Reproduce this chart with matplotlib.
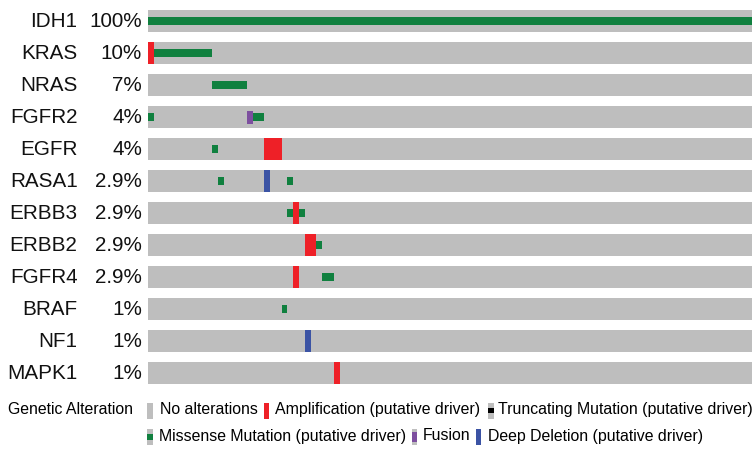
import matplotlib
matplotlib.use("Agg")
import matplotlib.pyplot as plt
from matplotlib.patches import Rectangle
from matplotlib.transforms import blended_transform_factory

plt.rcParams['font.family'] = ['Liberation Sans', 'DejaVu Sans']

# ---- data -------------------------------------------------------------
genes = ["IDH1", "KRAS", "NRAS", "FGFR2", "EGFR", "RASA1",
         "ERBB3", "ERBB2", "FGFR4", "BRAF", "NF1", "MAPK1"]
pct_labels = ["100%", "10%", "7%", "4%", "4%", "2.9%",
              "2.9%", "2.9%", "2.9%", "1%", "1%", "1%"]
n_samples = 104

# altered samples as runs: (gene, first sample, number of samples)
missense = [("IDH1", 0, 104), ("KRAS", 1, 10), ("NRAS", 11, 6),
            ("FGFR2", 0, 1), ("FGFR2", 18, 2), ("EGFR", 11, 1),
            ("RASA1", 12, 1), ("RASA1", 24, 1), ("ERBB3", 24, 1),
            ("ERBB3", 26, 1), ("ERBB2", 29, 1), ("FGFR4", 30, 2),
            ("BRAF", 23, 1)]
amplification = [("KRAS", 0, 1), ("EGFR", 20, 3), ("ERBB3", 25, 1),
                 ("ERBB2", 27, 2), ("FGFR4", 25, 1), ("MAPK1", 32, 1)]
deep_deletion = [("RASA1", 20, 1), ("NF1", 27, 1)]
fusion = [("FGFR2", 17, 1)]

# ---- styling ----------------------------------------------------------
C_GRAY = "#bebebe"
C_GREEN = "#10803f"
C_RED = "#ee2027"
C_BLUE = "#3b53a4"
C_PURPLE = "#7d4f9f"
TRACK_H = 0.70

W, H = 754, 451
fig = plt.figure(figsize=(W / 100, H / 100), dpi=100)

# legend / annotation layer in pixel units
lg = fig.add_axes([0, 0, 1, 1])
lg.set_xlim(0, W)
lg.set_ylim(H, 0)
lg.axis("off")

ax = fig.add_axes([148 / W, 1 - 389.15 / H, 604 / W, 384 / H])
ax.set_xlim(0, n_samples)
ax.set_ylim(len(genes) - 0.5, -0.5)
ax.axis("off")

rows = list(range(len(genes)))
ax.barh(rows, [n_samples] * len(genes), left=0, height=TRACK_H,
        color=C_GRAY, linewidth=0)


def draw_runs(runs, color, frac):
    for gene, start, count in runs:
        ax.barh(genes.index(gene), count, left=start,
                height=TRACK_H * frac, color=color, linewidth=0)


draw_runs(amplification, C_RED, 1.0)
draw_runs(deep_deletion, C_BLUE, 1.0)
draw_runs(fusion, C_PURPLE, 0.58)
draw_runs(missense, C_GREEN, 1 / 3)

# gene names and alteration frequencies
tr = blended_transform_factory(fig.transFigure, ax.transData)
for i, (g, p) in enumerate(zip(genes, pct_labels)):
    ax.text(77.5 / W, i, g, transform=tr, ha="right", va="center",
            fontsize=14.9, color="#111111")
    ax.text(142 / W, i, p, transform=tr, ha="right", va="center",
            fontsize=14.9, color="#111111")

# ---- legend -----------------------------------------------------------
LEG_FS = 11.45


def swatch(x, yc, color=None, frac=1.0, width=6, full=False):
    if full:
        lg.add_patch(Rectangle((x, yc - 8), width, 16, color=color, lw=0))
        return
    lg.add_patch(Rectangle((x, yc - 8), width, 16, color=C_GRAY, lw=0))
    if color is not None:
        lg.add_patch(Rectangle((x, yc - 8 * frac), width, 16 * frac,
                               color=color, lw=0))


r1, r2 = 410.5, 437.0
lg.text(8, r1 - 1, "Genetic Alteration", fontsize=LEG_FS, va="center")

swatch(146.7, r1)
lg.text(159.5, r1 - 1, "No alterations", fontsize=LEG_FS, va="center")
swatch(264.4, r1, C_RED, width=5, full=True)
lg.text(275, r1 - 1, "Amplification (putative driver)", fontsize=LEG_FS,
        va="center")
swatch(488, r1, "black", frac=0.35)
lg.text(497.5, r1 - 1, "Truncating Mutation (putative driver)",
        fontsize=LEG_FS, va="center")

swatch(146.7, r2, C_GREEN, frac=0.33)
lg.text(158.7, r2 - 1, "Missense Mutation (putative driver)",
        fontsize=LEG_FS, va="center")
swatch(411.5, r2, C_PURPLE, frac=0.6, width=5)
lg.text(423, r2 - 1, "Fusion", fontsize=LEG_FS, va="center")
swatch(476, r2, C_BLUE, width=5, full=True)
lg.text(488, r2 - 1, "Deep Deletion (putative driver)", fontsize=LEG_FS,
        va="center")

fig.savefig("out.png", dpi=100)
